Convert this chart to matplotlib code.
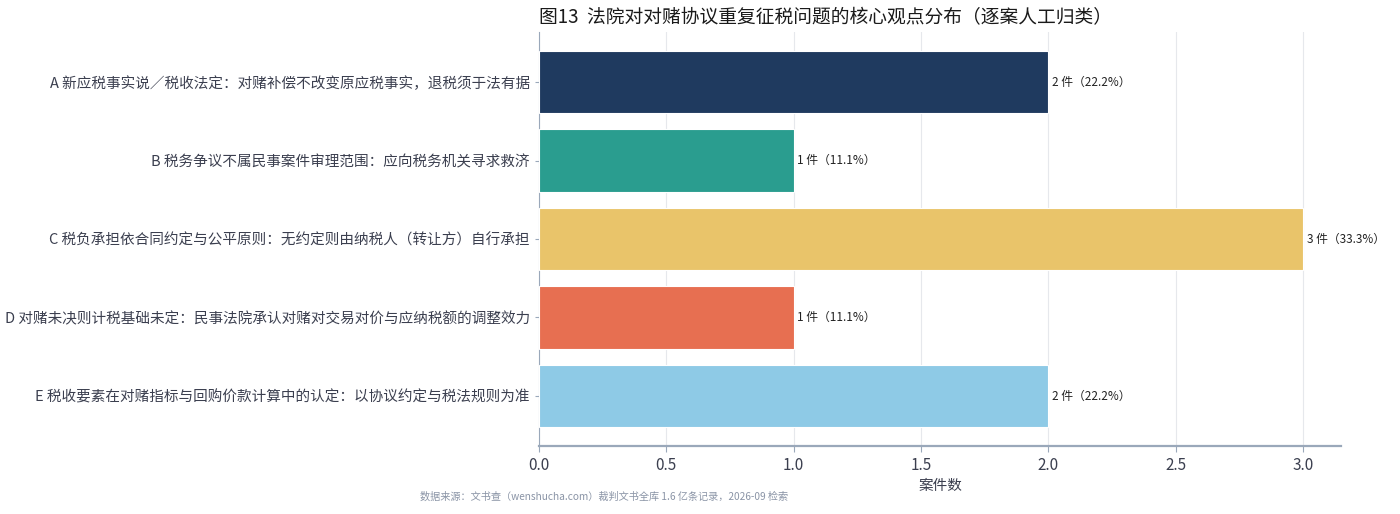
import matplotlib
matplotlib.use('Agg')
import matplotlib.pyplot as plt
import numpy as np

plt.rcParams['font.family'] = ['Noto Sans CJK SC', 'DejaVu Sans']

categories = [
    'A 新应税事实说／税收法定：对赌补偿不改变原应税事实，退税须于法有据',
    'B 税务争议不属民事案件审理范围：应向税务机关寻求救济',
    'C 税负承担依合同约定与公平原则：无约定则由纳税人（转让方）自行承担',
    'D 对赌未决则计税基础未定：民事法院承认对赌对交易对价与应纳税额的调整效力',
    'E 税收要素在对赌指标与回购价款计算中的认定：以协议约定与税法规则为准',
]
counts = [2, 1, 3, 1, 2]
colors = ['#1f3a5f', '#2a9d8f', '#e9c46a', '#e76f51', '#8ecae6']
total = sum(counts)

text_color = '#3b3f4f'
spine_color = '#9aa8ba'

fig = plt.figure(figsize=(14, 5.14), dpi=100)
ax = fig.add_axes([0.385, 0.132, 0.573, 0.806])

y = np.arange(len(categories))
ax.barh(y, counts, height=0.8, color=colors, edgecolor='white', linewidth=0.8, zorder=3)
ax.invert_yaxis()
ax.set_yticks(y)
ax.set_yticklabels(categories, fontsize=10.5, color=text_color)
ax.set_xlim(0, 3.15)

for yi, c in zip(y, counts):
    ax.text(c + 0.015, yi, f'{c} 件（{c / total * 100:.1f}%）', va='center', ha='left',
            fontsize=8.5, color='#222222')

ax.grid(axis='x', color='#e6e8ec', linewidth=0.8, zorder=0)
ax.set_axisbelow(True)
for s in ['top', 'right']:
    ax.spines[s].set_visible(False)
ax.spines['left'].set_color(spine_color)
ax.spines['bottom'].set_color(spine_color)
ax.spines['bottom'].set_linewidth(1.6)
ax.tick_params(axis='x', colors=text_color, labelsize=11, length=4, color=spine_color)
ax.tick_params(axis='y', colors=text_color, length=3, color=spine_color)
ax.set_xlabel('案件数', fontsize=10.5, color=text_color)
ax.set_title('图13  法院对对赌协议重复征税问题的核心观点分布（逐案人工归类）',
             loc='left', fontsize=13.5, color='#1a1a1a', pad=6)

fig.text(0.3, 0.028, '数据来源：文书查（wenshucha.com）裁判文书全库 1.6 亿条记录，2026-09 检索',
         fontsize=7.3, color='#8a94a6', ha='left')

fig.savefig('out.png', dpi=100)
